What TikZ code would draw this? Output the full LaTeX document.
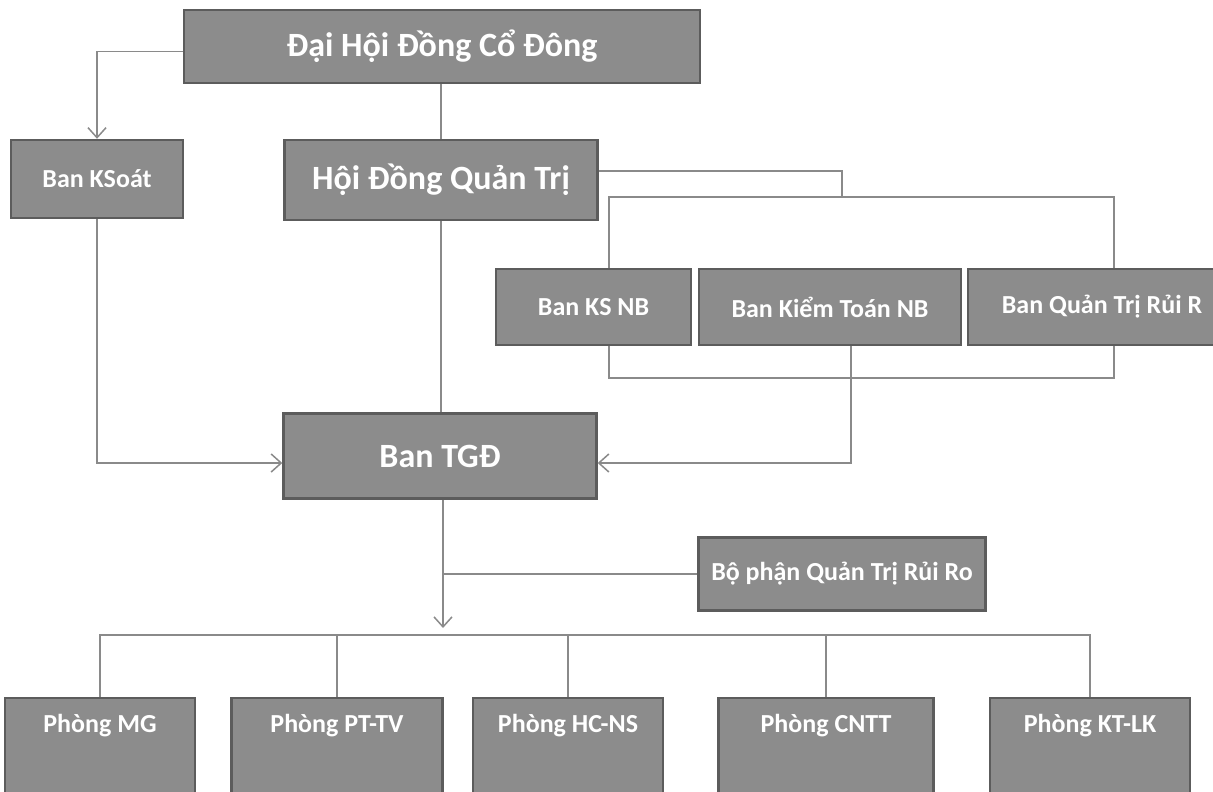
\documentclass[tikz,border=0pt]{standalone}
\usepackage{fontspec}
\setmainfont{Carlito}
\usetikzlibrary{arrows.meta}
\definecolor{xam}{HTML}{8C8C8C}
\definecolor{vien}{HTML}{5C5C5C}
\definecolor{duong}{HTML}{8A8A8A}
\tikzstyle{hop}=[rectangle, draw=vien, fill=xam, line width=1.2pt, text=white, inner sep=0pt, font=\bfseries\fontsize{13}{15}\selectfont]
\tikzstyle{hoplon}=[hop, font=\bfseries\fontsize{17}{20}\selectfont]
\tikzstyle{hopduoi}=[hop, anchor=north, text height=17pt, text depth=60pt]
\tikzstyle{noi}=[draw=duong, line width=0.75pt]
\tikzstyle{muiten}=[noi, -{Straight Barb[length=5pt,width=9pt]}]

\begin{document}
\begin{tikzpicture}[x=0.5pt, y=-0.5pt]
	\clip (0,0) rectangle (1213,791);
	\fill[white] (0,0) rectangle (1213,791);
	% cap tren
	\node[hoplon, minimum width=258pt, minimum height=36.5pt] (dhdcd) at (442,46.5) {Đại Hội Đồng Cổ Đông};
	\node[hop, minimum width=86pt, minimum height=39pt] (ksoat) at (97,179) {Ban KSoát};
	\node[hoplon, minimum width=156.5pt, minimum height=40pt] (hdqt) at (441,180) {Hội Đồng Quản Trị};
	% cac ban
	\node[hop, minimum width=97.5pt, minimum height=38pt] (ksnb) at (593.5,307) {Ban KS NB};
	\node[hop, minimum width=131pt, minimum height=38pt] (ktnb) at (830,307) {Ban Kiểm Toán NB};
	\node[hop, minimum width=134pt, minimum height=38pt] (qtrr) at (1102,307) {Ban Quản Trị Rủi R};
	\node[hoplon, minimum width=156.5pt, minimum height=42.5pt] (tgd) at (440,456) {Ban TGĐ};
	\node[hop, minimum width=143.5pt, minimum height=36.5pt] (bpqtrr) at (842,574) {Bộ phận Quản Trị Rủi Ro};
	% cac phong
	\node[hopduoi, minimum width=95pt] (mg) at (100,697) {Phòng MG};
	\node[hopduoi, minimum width=105.5pt] (pttv) at (337,697) {Phòng PT-TV};
	\node[hopduoi, minimum width=95pt] (hcns) at (568,697) {Phòng HC-NS};
	\node[hopduoi, minimum width=107.5pt] (cntt) at (826,697) {Phòng CNTT};
	\node[hopduoi, minimum width=100pt] (ktlk) at (1090,697) {Phòng KT-LK};
	\coordinate (re) at (842,197);
	\coordinate (tl) at (609,197);
	\coordinate (tr) at (1114,197);
	\coordinate (bl) at (609,378);
	\coordinate (br) at (1114,378);
	\coordinate (kt) at (851,463);
	\coordinate (bus) at (443,635);
	\draw[muiten] ([yshift=-2.5pt]dhdcd.west) -| (ksoat.north);
	\draw[noi] (dhdcd.south -| hdqt.north) -- (hdqt.north);
	\draw[noi] (hdqt.south) -- (hdqt.south |- tgd.north);
	\draw[noi] ([yshift=4.5pt]hdqt.east) -| (re);
	\draw[noi] (ksnb.north -| tl) -- (tl) -- (tr) -- (qtrr.north -| tr);
	\draw[noi] (ksnb.south -| bl) -- (bl) -- (br) -- (qtrr.south -| br);
	\draw[muiten] (ktnb.south -| kt) -- (kt) -- (tgd.east |- kt);
	\draw[muiten] (ksoat.south) |- (tgd.west |- kt);
	\draw[muiten] (tgd.south -| bus) -- ([yshift=3.5pt]bus);
	\draw[noi] (bpqtrr.west) -- (bpqtrr.west -| bus);
	\draw[noi] (mg.north) -- (mg.north |- bus) -- (ktlk.north |- bus) -- (ktlk.north);
	\foreach \p in {pttv,hcns,cntt}
		\draw[noi] (\p.north) -- (\p.north |- bus);
\end{tikzpicture}
\end{document}
